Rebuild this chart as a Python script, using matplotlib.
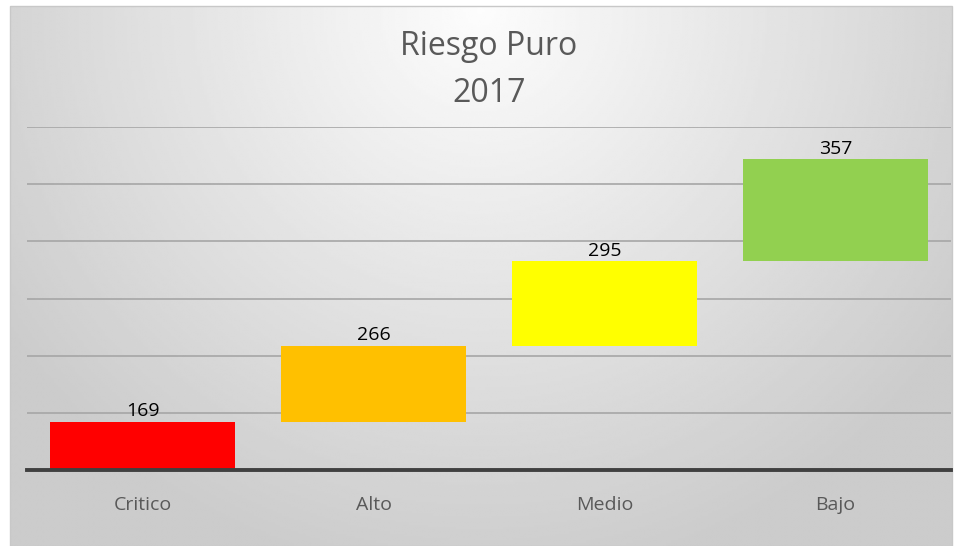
import numpy as np
import matplotlib.pyplot as plt
from matplotlib.patches import Rectangle

categorias = ["Critico", "Alto", "Medio", "Bajo"]
valores = [169, 266, 295, 357]
colores = ["#ff0000", "#ffc000", "#ffff00", "#92d050"]
titulo = "Riesgo Puro\n2017"

plt.rcParams["font.family"] = ["Open Sans", "DejaVu Sans"]

W, H = 956, 546
fig = plt.figure(figsize=(W / 100, H / 100), dpi=100)

# background: white margin + radial gradient chart area
bg = fig.add_axes([0, 0, 1, 1])
bg.set_xlim(0, W)
bg.set_ylim(H, 0)
bg.axis("off")
x0, y0, x1, y1 = 10, 6, 952, 546
xx, yy = np.meshgrid(np.linspace(x0, x1, 400), np.linspace(y0, y1, 240))
d = np.sqrt(((xx - 480) / 600) ** 2 + ((yy - 10) / 600) ** 2)
shade = np.clip(0.99 - 0.2 * d, 0.8, 1.0)
bg.imshow(shade, cmap="gray", vmin=0, vmax=1, extent=(x0, x1, y1, y0),
          aspect="auto", interpolation="bilinear")
bg.add_patch(Rectangle((x0, y0), x1 - x0, y1 - y0, fill=False,
                       edgecolor="#c8c8c8", linewidth=1))

ax = fig.add_axes([27 / W, 76 / H, 924 / W, 343 / H])
ax.set_facecolor("none")

x = np.arange(len(categorias))
bases = np.concatenate([[0], np.cumsum(valores)[:-1]])
ax.bar(x, valores, bottom=bases, width=0.8, color=colores, zorder=3)

for xi, b, v in zip(x, bases, valores):
    ax.annotate(str(v), (xi, b + v), xytext=(0, 1), textcoords="offset points",
                ha="center", va="bottom", fontsize=14, color="black", zorder=4)

ax.set_xlim(-0.5, len(categorias) - 0.5)
ax.set_ylim(0, 1200)
ax.set_yticks([200, 400, 600, 800, 1000, 1200])
ax.yaxis.grid(True, color="#a6a6a6", linewidth=1.2, zorder=0)
ax.tick_params(axis="y", left=False, labelleft=False)
ax.tick_params(axis="x", bottom=False, labelsize=14, labelcolor="#595959", pad=15)
ax.set_xticks(x)
ax.set_xticklabels(categorias)
for s in ["top", "right", "left"]:
    ax.spines[s].set_visible(False)
ax.spines["bottom"].set_color("#404040")
ax.spines["bottom"].set_linewidth(2.8)
ax.spines["bottom"].set_zorder(5)

fig.text(489 / W, 1 - 70 / H, titulo, ha="center", va="center",
         fontsize=23, color="#595959", linespacing=1.55)

fig.savefig("out.png", dpi=100)
